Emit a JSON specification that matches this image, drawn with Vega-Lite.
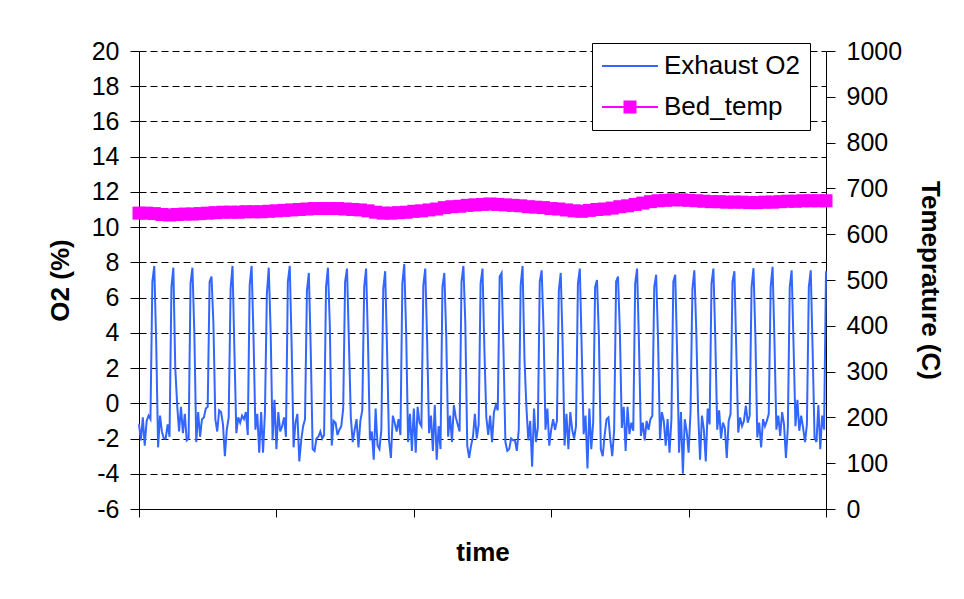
{
  "$schema": "https://vega.github.io/schema/vega-lite/v6.json",
  "width": 687,
  "height": 458,
  "autosize": {"type": "none"},
  "padding": {"left": 139, "top": 51, "right": 138, "bottom": 90},
  "background": "white",
  "config": {
    "view": {"stroke": null},
    "font": "Liberation Sans",
    "axis": {
      "labelFont": "Liberation Sans",
      "labelFontSize": 25,
      "labelColor": "#000",
      "titleFont": "Liberation Sans",
      "titleFontSize": 26,
      "titleFontWeight": "bold",
      "titleColor": "#000",
      "domainColor": "#000",
      "domainWidth": 1,
      "tickColor": "#000",
      "tickSize": 9,
      "labelPadding": 11
    }
  },
  "datasets": {
    "o2": [
      {"t":0,"o2":-1.2},{"t":1,"o2":-2.1},{"t":2,"o2":-0.8},{"t":3,"o2":-2.4},{"t":4,"o2":-1.0},{"t":5,"o2":-0.7},{"t":6,"o2":-0.9},{"t":7,"o2":6.9},{"t":8,"o2":7.8},{"t":9,"o2":3.5},
      {"t":10,"o2":-2.5},{"t":11,"o2":-0.7},{"t":12,"o2":-1.6},{"t":13,"o2":-2.0},{"t":14,"o2":-2.0},{"t":15,"o2":-1.2},{"t":16,"o2":-1.9},{"t":17,"o2":6.6},{"t":18,"o2":7.7},{"t":19,"o2":2.0},
      {"t":20,"o2":-0.1},{"t":21,"o2":-1.6},{"t":22,"o2":-0.2},{"t":23,"o2":-1.7},{"t":24,"o2":-0.6},{"t":25,"o2":-2.1},{"t":26,"o2":-2.0},{"t":27,"o2":6.8},{"t":28,"o2":7.7},{"t":29,"o2":4.0},
      {"t":30,"o2":-2.2},{"t":31,"o2":-0.5},{"t":32,"o2":-1.9},{"t":33,"o2":-0.9},{"t":34,"o2":-0.8},{"t":35,"o2":-0.3},{"t":36,"o2":-0.2},{"t":37,"o2":6.9},{"t":38,"o2":7.2},{"t":39,"o2":4.5},
      {"t":40,"o2":-0.9},{"t":41,"o2":-1.6},{"t":42,"o2":-0.4},{"t":43,"o2":-0.5},{"t":44,"o2":-1.2},{"t":45,"o2":-3.0},{"t":46,"o2":-1.5},{"t":47,"o2":-0.8},{"t":48,"o2":6.5},{"t":49,"o2":7.8},
      {"t":50,"o2":3.0},{"t":51,"o2":-1.7},{"t":52,"o2":-0.8},{"t":53,"o2":-1.1},{"t":54,"o2":-0.7},{"t":55,"o2":-0.9},{"t":56,"o2":-0.5},{"t":57,"o2":-1.8},{"t":58,"o2":6.7},{"t":59,"o2":7.8},
      {"t":60,"o2":3.8},{"t":61,"o2":-1.5},{"t":62,"o2":-0.6},{"t":63,"o2":-2.8},{"t":64,"o2":-0.5},{"t":65,"o2":-2.8},{"t":66,"o2":-0.5},{"t":67,"o2":6.2},{"t":68,"o2":7.7},{"t":69,"o2":4.0},
      {"t":70,"o2":-2.1},{"t":71,"o2":0.2},{"t":72,"o2":-2.6},{"t":73,"o2":-0.5},{"t":74,"o2":-1.6},{"t":75,"o2":-1.3},{"t":76,"o2":-0.8},{"t":77,"o2":-1.9},{"t":78,"o2":6.9},{"t":79,"o2":7.8},
      {"t":80,"o2":3.2},{"t":81,"o2":-2.5},{"t":82,"o2":-1.1},{"t":83,"o2":-0.6},{"t":84,"o2":-3.3},{"t":85,"o2":-2.1},{"t":86,"o2":-1.3},{"t":87,"o2":-0.9},{"t":88,"o2":6.4},{"t":89,"o2":7.4},
      {"t":90,"o2":3.0},{"t":91,"o2":-2.6},{"t":92,"o2":-2.7},{"t":93,"o2":-2.0},{"t":94,"o2":-1.9},{"t":95,"o2":-1.6},{"t":96,"o2":-2.0},{"t":97,"o2":-1.8},{"t":98,"o2":6.6},{"t":99,"o2":7.7},
      {"t":100,"o2":4.4},{"t":101,"o2":-2.4},{"t":102,"o2":-1.0},{"t":103,"o2":-1.1},{"t":104,"o2":-1.8},{"t":105,"o2":-1.5},{"t":106,"o2":-1.3},{"t":107,"o2":-0.3},{"t":108,"o2":6.9},{"t":109,"o2":7.65},
      {"t":110,"o2":3.5},{"t":111,"o2":-0.8},{"t":112,"o2":-2.2},{"t":113,"o2":-1.5},{"t":114,"o2":-0.9},{"t":115,"o2":-2.5},{"t":116,"o2":-1.0},{"t":117,"o2":-0.4},{"t":118,"o2":6.6},{"t":119,"o2":7.65},
      {"t":120,"o2":3.5},{"t":121,"o2":-2.1},{"t":122,"o2":-1.6},{"t":123,"o2":-3.2},{"t":124,"o2":-0.3},{"t":125,"o2":-2.4},{"t":126,"o2":-2.6},{"t":127,"o2":-1.5},{"t":128,"o2":6.5},{"t":129,"o2":7.5},
      {"t":130,"o2":3.0},{"t":131,"o2":-2.1},{"t":132,"o2":-3.1},{"t":133,"o2":-0.7},{"t":134,"o2":-1.1},{"t":135,"o2":-1.6},{"t":136,"o2":-0.9},{"t":137,"o2":-1.8},{"t":138,"o2":6.8},{"t":139,"o2":7.9},
      {"t":140,"o2":4.0},{"t":141,"o2":-2.2},{"t":142,"o2":-0.6},{"t":143,"o2":-2.7},{"t":144,"o2":-0.3},{"t":145,"o2":-2.8},{"t":146,"o2":-0.2},{"t":147,"o2":-1.1},{"t":148,"o2":-1.3},{"t":149,"o2":6.7},
      {"t":150,"o2":7.65},{"t":151,"o2":3.5},{"t":152,"o2":-1.7},{"t":153,"o2":-0.7},{"t":154,"o2":-2.7},{"t":155,"o2":-0.1},{"t":156,"o2":-3.2},{"t":157,"o2":-1.3},{"t":158,"o2":-2.6},{"t":159,"o2":6.6},
      {"t":160,"o2":7.4},{"t":161,"o2":3.8},{"t":162,"o2":-1.9},{"t":163,"o2":-0.7},{"t":164,"o2":-2.2},{"t":165,"o2":-0.1},{"t":166,"o2":-0.8},{"t":167,"o2":-1.2},{"t":168,"o2":-1.6},{"t":169,"o2":6.9},
      {"t":170,"o2":7.8},{"t":171,"o2":4.5},{"t":172,"o2":-2.4},{"t":173,"o2":-3.1},{"t":174,"o2":-2.4},{"t":175,"o2":-1.9},{"t":176,"o2":-0.6},{"t":177,"o2":-2.0},{"t":178,"o2":-1.2},{"t":179,"o2":6.8},
      {"t":180,"o2":7.65},{"t":181,"o2":3.0},{"t":182,"o2":-0.8},{"t":183,"o2":-1.8},{"t":184,"o2":-0.7},{"t":185,"o2":-2.2},{"t":186,"o2":-0.5},{"t":187,"o2":-0.1},{"t":188,"o2":-0.4},{"t":189,"o2":7.2},
      {"t":190,"o2":7.4},{"t":191,"o2":3.0},{"t":192,"o2":-2.2},{"t":193,"o2":-2.7},{"t":194,"o2":-2.6},{"t":195,"o2":-2.0},{"t":196,"o2":-2.1},{"t":197,"o2":-2.1},{"t":198,"o2":-2.7},{"t":199,"o2":-1.5},
      {"t":200,"o2":6.7},{"t":201,"o2":7.8},{"t":202,"o2":2.5},{"t":203,"o2":-0.2},{"t":204,"o2":-2.1},{"t":205,"o2":-1.0},{"t":206,"o2":-3.6},{"t":207,"o2":-0.3},{"t":208,"o2":-2.2},{"t":209,"o2":-1.4},
      {"t":210,"o2":6.9},{"t":211,"o2":7.55},{"t":212,"o2":4.2},{"t":213,"o2":-1.5},{"t":214,"o2":-0.3},{"t":215,"o2":-2.4},{"t":216,"o2":-1.5},{"t":217,"o2":-0.9},{"t":218,"o2":-1.5},{"t":219,"o2":-1.0},
      {"t":220,"o2":6.4},{"t":221,"o2":7.4},{"t":222,"o2":3.3},{"t":223,"o2":-2.4},{"t":224,"o2":-0.6},{"t":225,"o2":-2.6},{"t":226,"o2":-0.5},{"t":227,"o2":-1.5},{"t":228,"o2":-2.0},{"t":229,"o2":-1.3},
      {"t":230,"o2":6.8},{"t":231,"o2":7.65},{"t":232,"o2":3.0},{"t":233,"o2":-1.75},{"t":234,"o2":-0.7},{"t":235,"o2":-3.7},{"t":236,"o2":-0.3},{"t":237,"o2":-2.6},{"t":238,"o2":-1.1},{"t":239,"o2":6.6},
      {"t":240,"o2":7.0},{"t":241,"o2":3.8},{"t":242,"o2":-2.6},{"t":243,"o2":-3.0},{"t":244,"o2":-1.8},{"t":245,"o2":-0.9},{"t":246,"o2":-0.8},{"t":247,"o2":-2.1},{"t":248,"o2":-3.0},{"t":249,"o2":-1.5},
      {"t":250,"o2":6.9},{"t":251,"o2":7.2},{"t":252,"o2":4.0},{"t":253,"o2":-1.4},{"t":254,"o2":-0.2},{"t":255,"o2":-2.7},{"t":256,"o2":-0.2},{"t":257,"o2":-1.75},{"t":258,"o2":-1.1},{"t":259,"o2":-1.56},
      {"t":260,"o2":6.8},{"t":261,"o2":7.65},{"t":262,"o2":3.4},{"t":263,"o2":-1.85},{"t":264,"o2":-1.1},{"t":265,"o2":-2.1},{"t":266,"o2":-1.0},{"t":267,"o2":-1.5},{"t":268,"o2":-0.9},{"t":269,"o2":-0.7},
      {"t":270,"o2":6.6},{"t":271,"o2":7.3},{"t":272,"o2":3.6},{"t":273,"o2":-2.1},{"t":274,"o2":-0.5},{"t":275,"o2":-1.0},{"t":276,"o2":-2.4},{"t":277,"o2":-0.9},{"t":278,"o2":-2.8},{"t":279,"o2":-0.9},
      {"t":280,"o2":6.9},{"t":281,"o2":7.3},{"t":282,"o2":2.8},{"t":283,"o2":-2.8},{"t":284,"o2":-0.5},{"t":285,"o2":-4.0},{"t":286,"o2":-0.9},{"t":287,"o2":-1.6},{"t":288,"o2":-2.8},{"t":289,"o2":-0.5},
      {"t":290,"o2":6.5},{"t":291,"o2":7.55},{"t":292,"o2":4.2},{"t":293,"o2":-0.5},{"t":294,"o2":-3.2},{"t":295,"o2":-0.7},{"t":296,"o2":-1.5},{"t":297,"o2":-3.3},{"t":298,"o2":-0.3},{"t":299,"o2":-1.2},
      {"t":300,"o2":6.8},{"t":301,"o2":7.65},{"t":302,"o2":3.6},{"t":303,"o2":-1.5},{"t":304,"o2":-0.4},{"t":305,"o2":-2.0},{"t":306,"o2":-1.1},{"t":307,"o2":-1.4},{"t":308,"o2":-3.1},{"t":309,"o2":-1.0},
      {"t":310,"o2":-0.6},{"t":311,"o2":6.9},{"t":312,"o2":7.5},{"t":313,"o2":3.0},{"t":314,"o2":-1.66},{"t":315,"o2":-0.8},{"t":316,"o2":-1.3},{"t":317,"o2":-1.0},{"t":318,"o2":-0.13},{"t":319,"o2":-1.1},
      {"t":320,"o2":-0.7},{"t":321,"o2":6.6},{"t":322,"o2":7.67},{"t":323,"o2":3.8},{"t":324,"o2":-1.94},{"t":325,"o2":-1.1},{"t":326,"o2":-2.5},{"t":327,"o2":-0.9},{"t":328,"o2":-1.3},{"t":329,"o2":-1.0},
      {"t":330,"o2":-0.6},{"t":331,"o2":6.6},{"t":332,"o2":7.75},{"t":333,"o2":3.5},{"t":334,"o2":-1.5},{"t":335,"o2":-0.7},{"t":336,"o2":-1.85},{"t":337,"o2":-0.5},{"t":338,"o2":-1.2},{"t":339,"o2":-3.1},
      {"t":340,"o2":-1.4},{"t":341,"o2":6.6},{"t":342,"o2":7.55},{"t":343,"o2":3.3},{"t":344,"o2":-1.3},{"t":345,"o2":0.2},{"t":346,"o2":-1.56},{"t":347,"o2":-0.7},{"t":348,"o2":-1.4},{"t":349,"o2":-2.2},
      {"t":350,"o2":-1.2},{"t":351,"o2":6.6},{"t":352,"o2":7.55},{"t":353,"o2":3.0},{"t":354,"o2":-1.94},{"t":355,"o2":-2.2},{"t":356,"o2":-0.1},{"t":357,"o2":-2.6},{"t":358,"o2":-0.7},{"t":359,"o2":-1.5},
      {"t":360,"o2":7.5}
    ],
    "temp": [
      {"t":0,"temp":646},{"t":4,"temp":646},{"t":8,"temp":645},{"t":12,"temp":643},{"t":16,"temp":642},{"t":20,"temp":643},{"t":24,"temp":644},{"t":28,"temp":644},
      {"t":32,"temp":645},{"t":36,"temp":646},{"t":40,"temp":647},{"t":44,"temp":648},{"t":48,"temp":648},{"t":52,"temp":648},{"t":56,"temp":649},{"t":60,"temp":649},
      {"t":64,"temp":649},{"t":68,"temp":650},{"t":72,"temp":651},{"t":76,"temp":652},{"t":80,"temp":653},{"t":84,"temp":654},{"t":88,"temp":655},{"t":92,"temp":656},
      {"t":96,"temp":656},{"t":100,"temp":656},{"t":104,"temp":656},{"t":108,"temp":655},{"t":112,"temp":654},{"t":116,"temp":653},{"t":120,"temp":651},{"t":124,"temp":648},
      {"t":128,"temp":646},{"t":132,"temp":646},{"t":136,"temp":647},{"t":140,"temp":648},{"t":144,"temp":650},{"t":148,"temp":651},{"t":152,"temp":653},{"t":156,"temp":655},
      {"t":160,"temp":658},{"t":164,"temp":660},{"t":168,"temp":661},{"t":172,"temp":663},{"t":176,"temp":664},{"t":180,"temp":665},{"t":184,"temp":666},{"t":188,"temp":665},
      {"t":192,"temp":664},{"t":196,"temp":663},{"t":200,"temp":662},{"t":204,"temp":660},{"t":208,"temp":659},{"t":212,"temp":658},{"t":216,"temp":656},{"t":220,"temp":655},
      {"t":224,"temp":653},{"t":228,"temp":651},{"t":232,"temp":650},{"t":236,"temp":652},{"t":240,"temp":654},{"t":244,"temp":655},{"t":248,"temp":657},{"t":252,"temp":660},
      {"t":256,"temp":662},{"t":260,"temp":665},{"t":264,"temp":668},{"t":268,"temp":671},{"t":272,"temp":673},{"t":276,"temp":674},{"t":280,"temp":675},{"t":284,"temp":675},
      {"t":288,"temp":674},{"t":292,"temp":673},{"t":296,"temp":672},{"t":300,"temp":671},{"t":304,"temp":671},{"t":308,"temp":670},{"t":312,"temp":670},{"t":316,"temp":670},
      {"t":320,"temp":669},{"t":324,"temp":669},{"t":328,"temp":670},{"t":332,"temp":670},{"t":336,"temp":671},{"t":340,"temp":672},{"t":344,"temp":672},{"t":348,"temp":673},
      {"t":352,"temp":673},{"t":356,"temp":673},{"t":360,"temp":673}
    ]
  },
  "resolve": {"scale": {"y": "independent"}},
  "layer": [
    {
      "data": {"name": "o2"},
      "mark": {"type": "line", "strokeWidth": 2},
      "encoding": {
        "x": {
          "field": "t",
          "type": "quantitative",
          "scale": {"domain": [0, 360], "nice": false},
          "axis": {"title": "time", "values": [0, 72, 144, 216, 288, 360], "labels": false, "grid": false, "tickSize": 8, "titlePadding": 22}
        },
        "y": {
          "field": "o2",
          "type": "quantitative",
          "scale": {"domain": [-6, 20], "nice": false, "zero": false},
          "axis": {
            "orient": "left",
            "title": "O2 (%)",
            "values": [-6, -4, -2, 0, 2, 4, 6, 8, 10, 12, 14, 16, 18, 20],
            "labelExpr": "toString(datum.value)",
            "grid": true,
            "gridColor": "#000",
            "gridDash": [7, 4],
            "gridWidth": 1,
            "titlePadding": 18
          }
        },
        "color": {
          "datum": "Exhaust O2",
          "scale": {"domain": ["Exhaust O2", "Bed_temp"], "range": ["#3366ff", "#ff00ff"]},
          "legend": {
            "title": null,
            "orient": "none",
            "legendX": 453,
            "legendY": -8,
            "fillColor": "#ffffff",
            "strokeColor": "#000000",
            "padding": 10,
            "labelFont": "Liberation Sans",
            "labelFontSize": 26,
            "labelColor": "#000",
            "labelOffset": 36,
            "rowPadding": 15,
            "symbolSize": 576,
            "symbolType": "M-1.083,0H3.583",
            "symbolStrokeWidth": 2,
            "encode": {
              "symbols": {
                "update": {
                  "shape": {"signal": "datum.value === 'Bed_temp' ? 'M-1.083,0H3.583M0.792,-0.458H1.708V0.458H0.792Z' : 'M-1.083,0H3.583'"},
                  "fill": {"signal": "datum.value === 'Bed_temp' ? '#ff00ff' : 'transparent'"},
                  "stroke": {"signal": "datum.value === 'Bed_temp' ? '#ff00ff' : '#3366ff'"},
                  "opacity": {"value": 1}
                }
              }
            }
          }
        }
      }
    },
    {
      "data": {"name": "temp"},
      "encoding": {
        "x": {"field": "t", "type": "quantitative"},
        "y": {
          "field": "temp",
          "type": "quantitative",
          "scale": {"domain": [0, 1000], "nice": false},
          "axis": {
            "orient": "right",
            "title": "Temeprature (C)",
            "values": [0, 100, 200, 300, 400, 500, 600, 700, 800, 900, 1000],
            "format": "d",
            "grid": false,
            "titlePadding": 15
          }
        }
      },
      "layer": [
        {"mark": {"type": "line", "color": "#ff00ff", "strokeWidth": 3}},
        {"mark": {"type": "point", "shape": "square", "filled": true, "size": 169, "color": "#ff00ff", "opacity": 1}}
      ]
    }
  ]
}
